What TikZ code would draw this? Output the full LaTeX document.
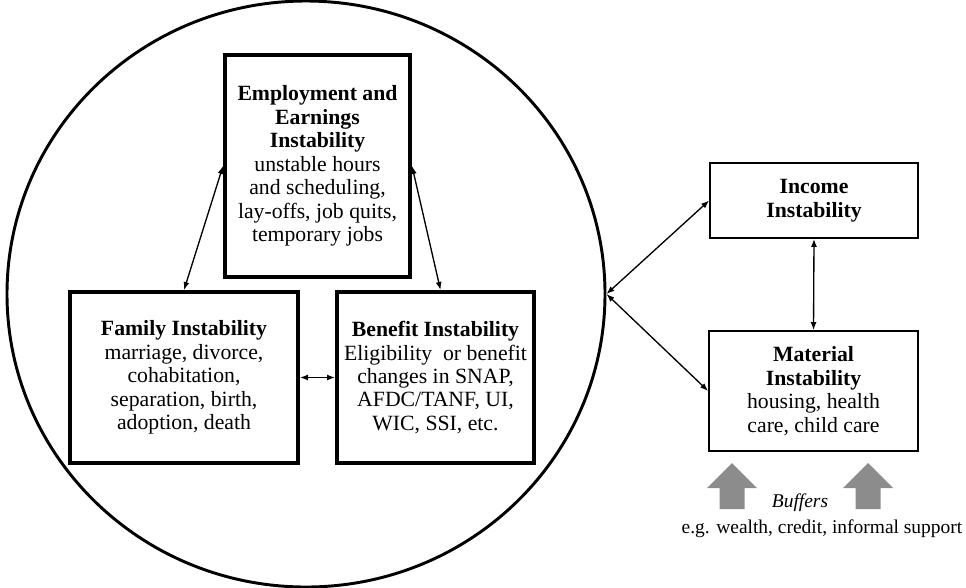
\documentclass[tikz,border=0pt]{standalone}
\usepackage{fontspec}
\setmainfont{Liberation Serif}
\usetikzlibrary{shapes.geometric,arrows.meta}
\definecolor{buffergray}{RGB}{140,140,140}
\tikzset{
  thickbox/.style={draw, line width=3pt, align=center, inner sep=2pt},
  thinbox/.style={draw, line width=1.3pt, align=center, inner sep=2pt},
  link/.style={{Latex[length=6pt,width=4.5pt]}-{Latex[length=6pt,width=4.5pt]}, line width=1pt},
}
\begin{document}
\begin{tikzpicture}[x=0.75pt, y=-0.75pt, font=\fontsize{16.3}{17.6}\selectfont]
\useasboundingbox (0,0) rectangle (966,587);

\node[ellipse, draw, line width=2.2pt, minimum width=448.5pt, minimum height=439.5pt] (ring) at (306,294) {};

\node[thickbox, minimum width=138.75pt, minimum height=166.5pt] (emp) at (317.5,166)
  {\textbf{Employment and}\\\textbf{Earnings}\\\textbf{Instability}\\unstable hours\\and scheduling,\\lay-offs, job quits,\\temporary jobs};
\node[thickbox, minimum width=171pt, minimum height=128.25pt] (fam) at (184,377.5)
  {\textbf{Family Instability}\\marriage, divorce,\\cohabitation,\\separation, birth,\\adoption, death};
\node[thickbox, minimum width=147.75pt, minimum height=128.25pt] (ben) at (435.5,377.5)
  {\textbf{Benefit Instability}\\Eligibility\ \ or benefit\\changes in SNAP,\\AFDC/TANF, UI,\\WIC, SSI, etc.};

\node[thinbox, minimum width=156pt, minimum height=56.25pt] (inc) at (814,200.5)
  {\textbf{Income}\\\textbf{Instability}};
\node[thinbox, minimum width=156.75pt, minimum height=90pt] (mat) at (813.5,391)
  {\textbf{Material}\\\textbf{Instability}\\housing, health\\care, child care};

\draw[link] (emp.west) -- (fam.north);
\draw[link] (emp.east) -- ([xshift=3.75pt]ben.north);
\draw[link] (fam.east) -- (ben.west);
\draw[link] (ring.east) -- (inc.west);
\draw[link] (ring.east) -- (mat.west);
\draw[link] (inc.south) -- (mat.north);

% buffers
\foreach \cx in {732,868}
{
  \fill[buffergray] (\cx,463) -- (\cx+25,488) -- (\cx+12.5,488) -- (\cx+12.5,509)
    -- (\cx-12.5,509) -- (\cx-12.5,488) -- (\cx-25,488) -- cycle;
}
\node[font=\fontsize{14.6}{16}\selectfont] (buf) at (800,503) {\textit{Buffers}};
\node[font=\fontsize{14.6}{16}\selectfont] (bufex) at (822,529) {e.g. wealth, credit, informal support};
\end{tikzpicture}
\end{document}
